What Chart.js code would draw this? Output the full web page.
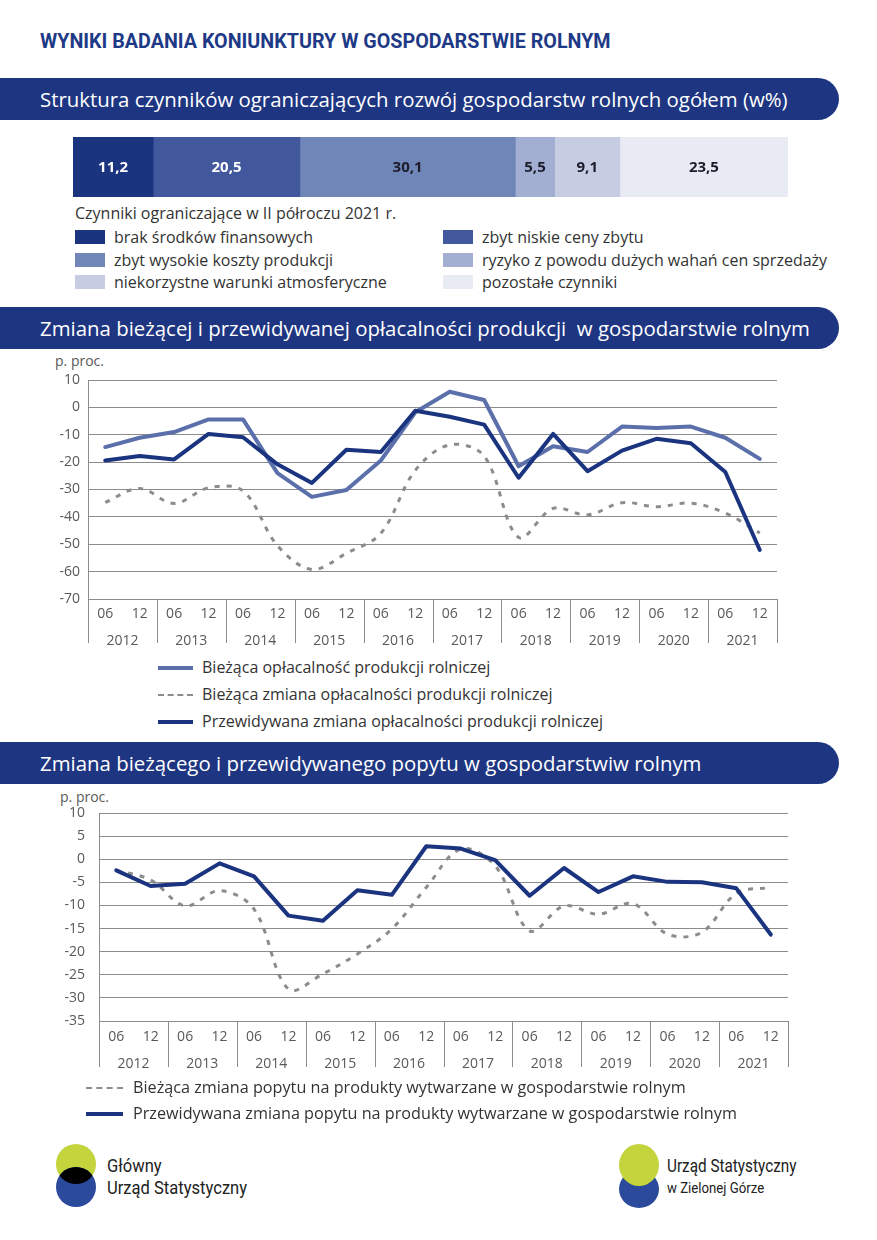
<!DOCTYPE html>
<html lang="pl">
<head>
<meta charset="utf-8">
<script src="https://cdn.jsdelivr.net/npm/chart.js@4.4.1/dist/chart.umd.min.js"></script>
<style>
  body { margin:0; width:877px; height:1240px; background:#fff; font-family: "Open Sans", Lato, sans-serif; color:#333; position:relative; overflow:hidden; }
  .abs { position:absolute; }
  .title { left:40px; top:29px; font-family: Roboto, sans-serif; font-weight:700; font-size:20px; color:#1e3a86; transform:scaleX(0.985); transform-origin:left top; white-space:nowrap; }
  .banner { left:0; width:839px; height:42px; background:#1e3581; border-radius:0 21px 21px 0; color:#fff; font-size:20.4px; line-height:42px; padding-left:40px; box-sizing:border-box; white-space:nowrap; }
  .cap { font-size:16px; color:#333; white-space:nowrap; }
  .sq { position:absolute; width:30px; height:14px; }
  .lg { position:absolute; font-size:16px; color:#333; white-space:nowrap; line-height:20px; }
  .ln { position:absolute; height:0; }
  .unit { font-size:14px; color:#595959; }
  .logo { font-family: Roboto, sans-serif; color:#222; white-space:nowrap; transform-origin:left top; }
</style>
</head>
<body>
<div class="abs title">WYNIKI BADANIA KONIUNKTURY W GOSPODARSTWIE ROLNYM</div>

<div class="abs banner" style="top:78px">Struktura czynników ograniczających rozwój gospodarstw rolnych ogółem (w%)</div>
<canvas id="bar" class="abs" width="715" height="60" style="left:73px; top:137px"></canvas>
<div class="abs cap" style="left:75px; top:202px">Czynniki ograniczające w II półroczu 2021 r.</div>
<div id="barLegend"></div>

<div class="abs banner" style="top:307px">Zmiana bieżącej i przewidywanej opłacalności produkcji&nbsp; w gospodarstwie rolnym</div>
<div class="abs unit" style="left:55px; top:351px">p. proc.</div>
<canvas id="line1" class="abs" width="877" height="280" style="left:0; top:370px"></canvas>
<div id="legend1"></div>

<div class="abs banner" style="top:742px">Zmiana bieżącego i przewidywanego popytu w gospodarstwiw rolnym</div>
<div class="abs unit" style="left:60px; top:787px">p. proc.</div>
<canvas id="line2" class="abs" width="877" height="280" style="left:0; top:800px"></canvas>
<div id="legend2"></div>

<svg class="abs" style="left:55px; top:1143px" width="45" height="66">
  <ellipse cx="21" cy="21" rx="20" ry="20" fill="#c3d43c"/>
  <ellipse cx="21" cy="44" rx="20" ry="20" fill="#2b4a9b"/>
  <clipPath id="cg"><ellipse cx="21" cy="21" rx="20" ry="20"/></clipPath>
  <ellipse cx="21" cy="44" rx="20" ry="20" fill="#000" clip-path="url(#cg)"/>
</svg>
<div class="abs logo" style="left:107px; top:1155px; font-size:18px; transform:scaleX(0.92)">Główny</div>
<div class="abs logo" style="left:107px; top:1177px; font-size:18px; transform:scaleX(0.92)">Urząd Statystyczny</div>

<svg class="abs" style="left:618px; top:1143px" width="45" height="66">
  <ellipse cx="21" cy="46" rx="20" ry="19" fill="#2b4a9b"/>
  <ellipse cx="21" cy="22" rx="20" ry="21" fill="#c3d43c"/>
</svg>
<div class="abs logo" style="left:667px; top:1155px; font-size:18px; transform:scaleX(0.85)">Urząd Statystyczny</div>
<div class="abs logo" style="left:667px; top:1179px; font-size:15px; transform:scaleX(0.88)">w Zielonej Górze</div>

<script>
// --- dane: struktura czynników (w %)
var factorNames = ['brak środków finansowych', 'zbyt niskie ceny zbytu', 'zbyt wysokie koszty produkcji',
  'ryzyko z powodu dużych wahań cen sprzedaży', 'niekorzystne warunki atmosferyczne', 'pozostałe czynniki'];
var factorShares = [11.2, 20.5, 30.1, 5.5, 9.1, 23.5];
var factorColors = ['#1b3480', '#42589c', '#7085b8', '#a2afd3', '#c6cde3', '#e8ebf4'];

// --- dane: oś czasu
var months = ['06','12','06','12','06','12','06','12','06','12','06','12','06','12','06','12','06','12','06','12'];
var years = ['2012','2013','2014','2015','2016','2017','2018','2019','2020','2021'];

// --- opłacalność produkcji (p. proc.)
var biezacaOplacalnosc = [-14.5, -11.1, -9, -4.4, -4.4, -24, -32.7, -30.2, -19.4, -1.8, 5.7, 2.7, -21.5, -14.2, -16.3, -7, -7.5, -7, -11.1, -18.8];
var biezacaZmianaOplacalnosci = [-34.7, -29.6, -35.1, -29.4, -30.5, -50.5, -59.2, -53.3, -46, -23, -13.7, -17.8, -47.5, -36.9, -39.3, -34.8, -36.3, -35, -38.6, -45.9];
var przewidywanaZmianaOplacalnosci = [-19.4, -17.8, -19, -9.7, -10.9, -20.8, -27.6, -15.5, -16.3, -1.2, -3.4, -6.3, -25.7, -9.7, -23.3, -15.8, -11.5, -13.1, -23.6, -52.1];

// --- popyt (p. proc.)
var biezacaZmianaPopytu = [-2.4, -4.5, -10.1, -6.8, -10.8, -28.1, -24.8, -20.5, -15.1, -6.1, 2.2, -1.4, -15.5, -10.1, -11.9, -9.6, -16.2, -15.8, -7.4, -6.1];
var przewidywanaZmianaPopytu = [-2.4, -5.8, -5.3, -0.9, -3.7, -12.2, -13.3, -6.7, -7.7, 2.8, 2.3, -0.2, -7.9, -1.9, -7.1, -3.7, -4.9, -5, -6.3, -16.3];

var navy = '#1b347f', light = '#5b70aa', grey = '#8c8c8c', axisTxt = '#595959';
var fontFam = '"Open Sans", Lato, sans-serif';

// legenda struktury
var bl = '';
factorNames.forEach(function (n, i) {
  var col = i % 2, row = Math.floor(i / 2);
  var x = col ? 443 : 75, y = 230 + row * 22.5;
  bl += '<div class="sq" style="left:' + x + 'px;top:' + y + 'px;background:' + factorColors[i] + '"></div>';
  bl += '<div class="lg" style="left:' + (x + 39) + 'px;top:' + (y - 3) + 'px">' + n + '</div>';
});
document.getElementById('barLegend').innerHTML = bl;

function lineLegend(el, items, lx, tx, y0, dy, fs) {
  var h = '';
  items.forEach(function (it, i) {
    var y = y0 + i * dy;
    h += '<div class="ln" style="left:' + lx + 'px;top:' + (y - (it.dash ? 1 : 2)) + 'px;width:' + it.w + 'px;border-top:' +
      (it.dash ? '2px dashed ' + grey : '4px solid ' + it.c) + '"></div>';
    h += '<div class="lg" style="left:' + tx + 'px;top:' + (y - 11) + 'px;font-size:' + fs + 'px">' + it.t + '</div>';
  });
  document.getElementById(el).innerHTML = h;
}
lineLegend('legend1', [
  {t: 'Bieżąca opłacalność produkcji rolniczej', c: light, w: 35},
  {t: 'Bieżąca zmiana opłacalności produkcji rolniczej', dash: true, w: 35},
  {t: 'Przewidywana zmiana opłacalności produkcji rolniczej', c: navy, w: 35}
], 158, 202, 668, 27, 16);
lineLegend('legend2', [
  {t: 'Bieżąca zmiana popytu na produkty wytwarzane w gospodarstwie rolnym', dash: true, w: 37},
  {t: 'Przewidywana zmiana popytu na produkty wytwarzane w gospodarstwie rolnym', c: navy, w: 37}
], 86, 133, 1088, 26, 16.2);

// etykiety w segmentach paska
var segLabels = {
  id: 'segLabels',
  afterDatasetsDraw: function (chart) {
    var ctx = chart.ctx;
    ctx.save();
    ctx.font = 'bold 15px ' + fontFam;
    ctx.textAlign = 'center';
    ctx.textBaseline = 'middle';
    chart.data.datasets.forEach(function (ds, i) {
      var bar = chart.getDatasetMeta(i).data[0];
      ctx.fillStyle = i < 2 ? '#ffffff' : '#1c1c2a';
      ctx.fillText(ds.data[0].toFixed(1).replace('.', ','), (bar.x + bar.base) / 2, bar.y + 1);
    });
    ctx.restore();
  }
};

new Chart(document.getElementById('bar'), {
  type: 'bar',
  data: {
    labels: [''],
    datasets: factorShares.map(function (v, i) {
      return { label: factorNames[i], data: [v], backgroundColor: factorColors[i], borderWidth: 0,
        barPercentage: 1, categoryPercentage: 1 };
    })
  },
  options: {
    indexAxis: 'y',
    responsive: false,
    animation: false,
    layout: { padding: 0 },
    scales: {
      x: { stacked: true, display: false, min: 0, max: factorShares.reduce(function (a, b) { return a + b; }, 0) },
      y: { stacked: true, display: false }
    },
    plugins: { legend: { display: false }, tooltip: { enabled: false } }
  },
  plugins: [segLabels]
});

// druga linia osi X: lata i separatory
var yearAxis = {
  id: 'yearAxis',
  afterDraw: function (chart, args, opts) {
    var ctx = chart.ctx, x = chart.scales.x, area = chart.chartArea;
    var half = (x.getPixelForValue(1) - x.getPixelForValue(0)) / 2;
    ctx.save();
    ctx.strokeStyle = grey;
    ctx.lineWidth = 1;
    ctx.fillStyle = axisTxt;
    ctx.font = '14px ' + fontFam;
    ctx.textAlign = 'center';
    ctx.textBaseline = 'middle';
    for (var i = 0; i <= months.length; i += 2) {
      var px = i < months.length ? x.getPixelForValue(i) - half : x.getPixelForValue(months.length - 1) + half;
      px = Math.round(px) + 0.5;
      ctx.beginPath();
      ctx.moveTo(px, area.bottom);
      ctx.lineTo(px, area.bottom + opts.sep);
      ctx.stroke();
    }
    years.forEach(function (yr, k) {
      var cx = (x.getPixelForValue(2 * k) + x.getPixelForValue(2 * k + 1)) / 2;
      ctx.fillText(yr, cx, area.bottom + opts.yearY);
    });
    ctx.restore();
  }
};

function lineChart(id, sets, yMin, yMax, step, yWidth, padTop, padRight, xHeight, sep, yearY, yGap, xPad) {
  return new Chart(document.getElementById(id), {
    type: 'line',
    data: { labels: months, datasets: sets },
    options: {
      responsive: false,
      animation: false,
      layout: { padding: { top: padTop, right: padRight, left: 0, bottom: 0 } },
      elements: { point: { radius: 0 }, line: { borderJoinStyle: 'round', borderCapStyle: 'round' } },
      scales: {
        x: {
          offset: true,
          grid: { display: false, drawTicks: false },
          border: { display: false },
          ticks: { color: axisTxt, font: { size: 14, family: fontFam }, padding: xPad, maxRotation: 0, autoSkip: false },
          afterFit: function (s) { s.height = xHeight; }
        },
        y: {
          min: yMin, max: yMax,
          grid: { color: grey, lineWidth: 1, drawTicks: true, tickLength: yGap, tickColor: 'rgba(0,0,0,0)' },
          border: { display: true, color: grey },
          ticks: { stepSize: step, color: axisTxt, font: { size: 14, family: fontFam }, padding: 0 },
          afterFit: function (s) { s.width = yWidth; }
        }
      },
      plugins: { legend: { display: false }, tooltip: { enabled: false }, yearAxis: { sep: sep, yearY: yearY } }
    },
    plugins: [yearAxis]
  });
}

lineChart('line1', [
  { label: 'Przewidywana zmiana opłacalności produkcji rolniczej', data: przewidywanaZmianaOplacalnosci,
    borderColor: navy, borderWidth: 4, tension: 0, order: 0 },
  { label: 'Bieżąca opłacalność produkcji rolniczej', data: biezacaOplacalnosc,
    borderColor: light, borderWidth: 4, tension: 0, order: 1 },
  { label: 'Bieżąca zmiana opłacalności produkcji rolniczej', data: biezacaZmianaOplacalnosci,
    borderColor: grey, borderWidth: 3, borderDash: [5, 7], tension: 0.35, borderCapStyle: 'butt', order: 2 }
], -70, 10, 10, 88, 10, 100, 51, 44, 42, 8, 7);

lineChart('line2', [
  { label: 'Przewidywana zmiana popytu na produkty wytwarzane w gospodarstwie rolnym', data: przewidywanaZmianaPopytu,
    borderColor: navy, borderWidth: 4, tension: 0, order: 0 },
  { label: 'Bieżąca zmiana popytu na produkty wytwarzane w gospodarstwie rolnym', data: biezacaZmianaPopytu,
    borderColor: grey, borderWidth: 3, borderDash: [5, 7], tension: 0.35, borderCapStyle: 'butt', order: 1 }
], -35, 10, 5, 99, 13, 89, 59, 46, 43, 14, 8);
</script>
</body>
</html>
